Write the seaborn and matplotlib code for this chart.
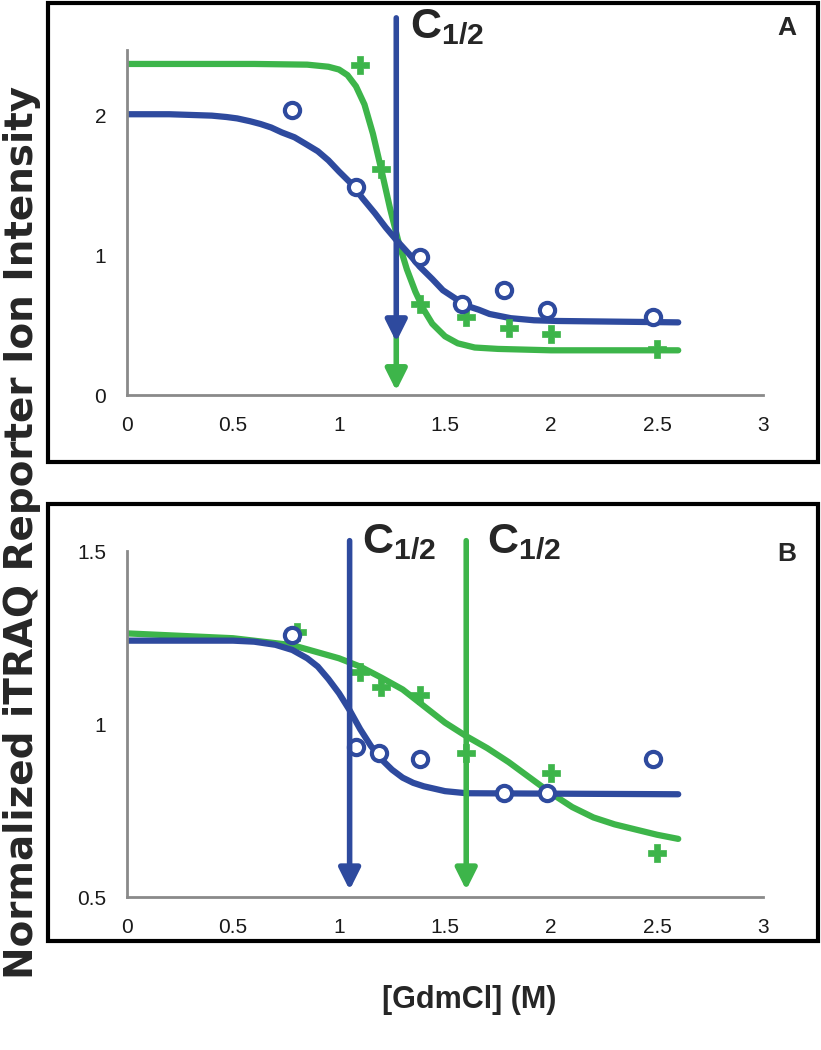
import numpy as np
import pandas as pd
import matplotlib
matplotlib.use("Agg")
import matplotlib.pyplot as plt
from matplotlib.patches import Rectangle
import seaborn as sns

BLUE = "#2e4a9e"
GREEN = "#3db54a"

# ---- panel A data ----
a_blue_x = [0.78, 1.08, 1.38, 1.58, 1.78, 1.98, 2.48]
a_blue_y = [2.04, 1.49, 0.99, 0.65, 0.75, 0.61, 0.56]
a_green_x = [1.10, 1.20, 1.38, 1.60, 1.80, 2.00, 2.50]
a_green_y = [2.36, 1.62, 0.65, 0.56, 0.48, 0.44, 0.33]

a_blue_fit_x = [0, 0.2, 0.3, 0.4, 0.47, 0.52, 0.58, 0.63, 0.68, 0.73, 0.79, 0.84, 0.90, 0.95, 1.0, 1.06, 1.11, 1.17, 1.22,
                1.27, 1.33, 1.38, 1.44, 1.49, 1.55, 1.60, 1.66, 1.71, 1.81, 1.92, 2.03, 2.6]
a_blue_fit_y = [2.01, 2.01, 2.005, 2.0, 1.99, 1.98, 1.96, 1.94, 1.915, 1.88, 1.845, 1.80, 1.745, 1.68, 1.60, 1.51, 1.41, 1.30, 1.20,
                1.11, 1.01, 0.92, 0.83, 0.75, 0.69, 0.64, 0.61, 0.58, 0.55, 0.535, 0.53, 0.52]
a_green_fit_x = [0, 0.6, 0.85, 0.95, 1.0, 1.04, 1.08, 1.12, 1.16, 1.20, 1.24, 1.28, 1.32, 1.36, 1.40, 1.44, 1.50, 1.56, 1.64, 1.75, 2.0, 2.6]
a_green_fit_y = [2.37, 2.37, 2.365, 2.35, 2.33, 2.29, 2.21, 2.08, 1.87, 1.61, 1.34, 1.10, 0.90, 0.74, 0.61, 0.51, 0.42, 0.37, 0.34, 0.33, 0.32, 0.32]
a_c_half = 1.27

# ---- panel B data ----
b_blue_x = [0.78, 1.08, 1.19, 1.38, 1.78, 1.98, 2.48]
b_blue_y = [1.257, 0.934, 0.917, 0.898, 0.801, 0.800, 0.898]
b_green_x = [0.80, 1.10, 1.20, 1.38, 1.60, 2.00, 2.50]
b_green_y = [1.267, 1.151, 1.108, 1.084, 0.917, 0.859, 0.626]

b_blue_fit_x = [0, 0.5, 0.6, 0.7, 0.78, 0.85, 0.9, 0.95, 1.0, 1.05, 1.1, 1.15, 1.2, 1.25, 1.3, 1.35, 1.4, 1.5, 1.6, 2.6]
b_blue_fit_y = [1.241, 1.241, 1.238, 1.229, 1.214, 1.19, 1.166, 1.13, 1.089, 1.04, 0.985, 0.937, 0.898, 0.868, 0.845, 0.83, 0.82, 0.806, 0.80, 0.797]
b_green_fit_x = [0, 0.5, 0.78, 1.0, 1.1, 1.2, 1.3, 1.4, 1.5, 1.6, 1.7, 1.8, 1.9, 2.0, 2.1, 2.2, 2.3, 2.4, 2.5, 2.6]
b_green_fit_y = [1.262, 1.248, 1.228, 1.19, 1.166, 1.134, 1.10, 1.052, 1.004, 0.965, 0.93, 0.89, 0.845, 0.80, 0.76, 0.73, 0.71, 0.695, 0.68, 0.668]
b_c_half_blue = 1.05
b_c_half_green = 1.60

x_ticks = [0, 0.5, 1, 1.5, 2, 2.5, 3]

sns.set_style("white")
plt.rcParams["font.family"] = ["Liberation Sans", "DejaVu Sans"]
plt.rcParams["mathtext.fontset"] = "custom"
plt.rcParams["mathtext.rm"] = "Liberation Sans:bold"
plt.rcParams["mathtext.it"] = "Liberation Sans:bold"
plt.rcParams["mathtext.bf"] = "Liberation Sans:bold"

fig = plt.figure(figsize=(8.21, 10.5), dpi=100)


def style_axes(ax, ylim, yticks):
    ax.set_xlim(0, 3)
    ax.set_ylim(*ylim)
    ax.set_xticks(x_ticks)
    ax.set_xticklabels([f"{t:g}" for t in x_ticks])
    ax.set_yticks(yticks)
    ax.set_yticklabels([f"{t:g}" for t in yticks])
    for s in ["top", "right"]:
        ax.spines[s].set_visible(False)
    for s in ["left", "bottom"]:
        ax.spines[s].set_color("#8a8a8a")
        ax.spines[s].set_linewidth(2)
    ax.tick_params(axis="both", direction="out", length=7, width=2, color="#8a8a8a",
                   labelsize=15, labelcolor="#1a1a1a", pad=8)
    ax.set_xlabel("")
    ax.set_ylabel("")
    ax.patch.set_alpha(0)


def draw_panel(ax, bx, by, gx, gy, bfx, bfy, gfx, gfy):
    df_fit_g = pd.DataFrame({"x": gfx, "y": gfy})
    df_fit_b = pd.DataFrame({"x": bfx, "y": bfy})
    sns.lineplot(data=df_fit_g, x="x", y="y", ax=ax, color=GREEN, lw=4.5,
                 estimator=None, sort=False, solid_capstyle="round", zorder=2)
    sns.lineplot(data=df_fit_b, x="x", y="y", ax=ax, color=BLUE, lw=4.5,
                 estimator=None, sort=False, solid_capstyle="round", zorder=2)
    sns.scatterplot(x=gx, y=gy, ax=ax, marker="P", s=180, color=GREEN,
                    edgecolor=GREEN, linewidth=0.5, zorder=3)
    sns.scatterplot(x=bx, y=by, ax=ax, marker="o", s=120, facecolor="white",
                    edgecolor=BLUE, linewidth=3, zorder=3)


def arrow(ax, x, y0, y1, color):
    ax.annotate("", xy=(x, y1), xytext=(x, y0), annotation_clip=False,
                arrowprops=dict(arrowstyle="-|>", color=color, lw=4,
                                mutation_scale=32, shrinkA=0, shrinkB=0),
                zorder=5)


# panel A
axA = fig.add_axes([0.1547, 0.6238, 0.7747, 0.3286])
draw_panel(axA, a_blue_x, a_blue_y, a_green_x, a_green_y,
           a_blue_fit_x, a_blue_fit_y, a_green_fit_x, a_green_fit_y)
style_axes(axA, (0, 2.47), [0, 1, 2])
arrow(axA, a_c_half, 0.45, 0.03, GREEN)
arrow(axA, a_c_half, 2.70, 0.38, BLUE)
axA.text(1.335, 2.78, r"$\mathrm{C_{1/2}}$", fontsize=31, va="top", ha="left", clip_on=False)
axA.text(3.11, 2.63, "A", fontsize=19, fontweight="bold", ha="center", va="center", clip_on=False)

# panel B
axB = fig.add_axes([0.1547, 0.1457, 0.7747, 0.3295])
draw_panel(axB, b_blue_x, b_blue_y, b_green_x, b_green_y,
           b_blue_fit_x, b_blue_fit_y, b_green_fit_x, b_green_fit_y)
style_axes(axB, (0.5, 1.5), [0.5, 1, 1.5])
arrow(axB, b_c_half_blue, 1.53, 0.52, BLUE)
arrow(axB, b_c_half_green, 1.53, 0.52, GREEN)
axB.text(b_c_half_blue + 0.06, 1.585, r"$\mathrm{C_{1/2}}$", fontsize=31, va="top", ha="left", clip_on=False)
axB.text(b_c_half_green + 0.10, 1.585, r"$\mathrm{C_{1/2}}$", fontsize=31, va="top", ha="left", clip_on=False)
axB.text(3.11, 1.49, "B", fontsize=19, fontweight="bold", ha="center", va="center", clip_on=False)

# panel frames
fig.add_artist(Rectangle((0.059, 0.560), 0.937, 0.437, transform=fig.transFigure,
                         fill=False, edgecolor="black", lw=3))
fig.add_artist(Rectangle((0.059, 0.104), 0.937, 0.416, transform=fig.transFigure,
                         fill=False, edgecolor="black", lw=3))

fig.text(0.027, 0.493, "Normalized iTRAQ Reporter Ion Intensity", rotation=90,
         ha="center", va="center", fontsize=28, fontweight="bold", family=["DejaVu Sans"])
fig.text(0.572, 0.048, "[GdmCl] (M)", ha="center", va="center",
         fontsize=22, fontweight="bold")

fig.savefig("out.png", dpi=100)
